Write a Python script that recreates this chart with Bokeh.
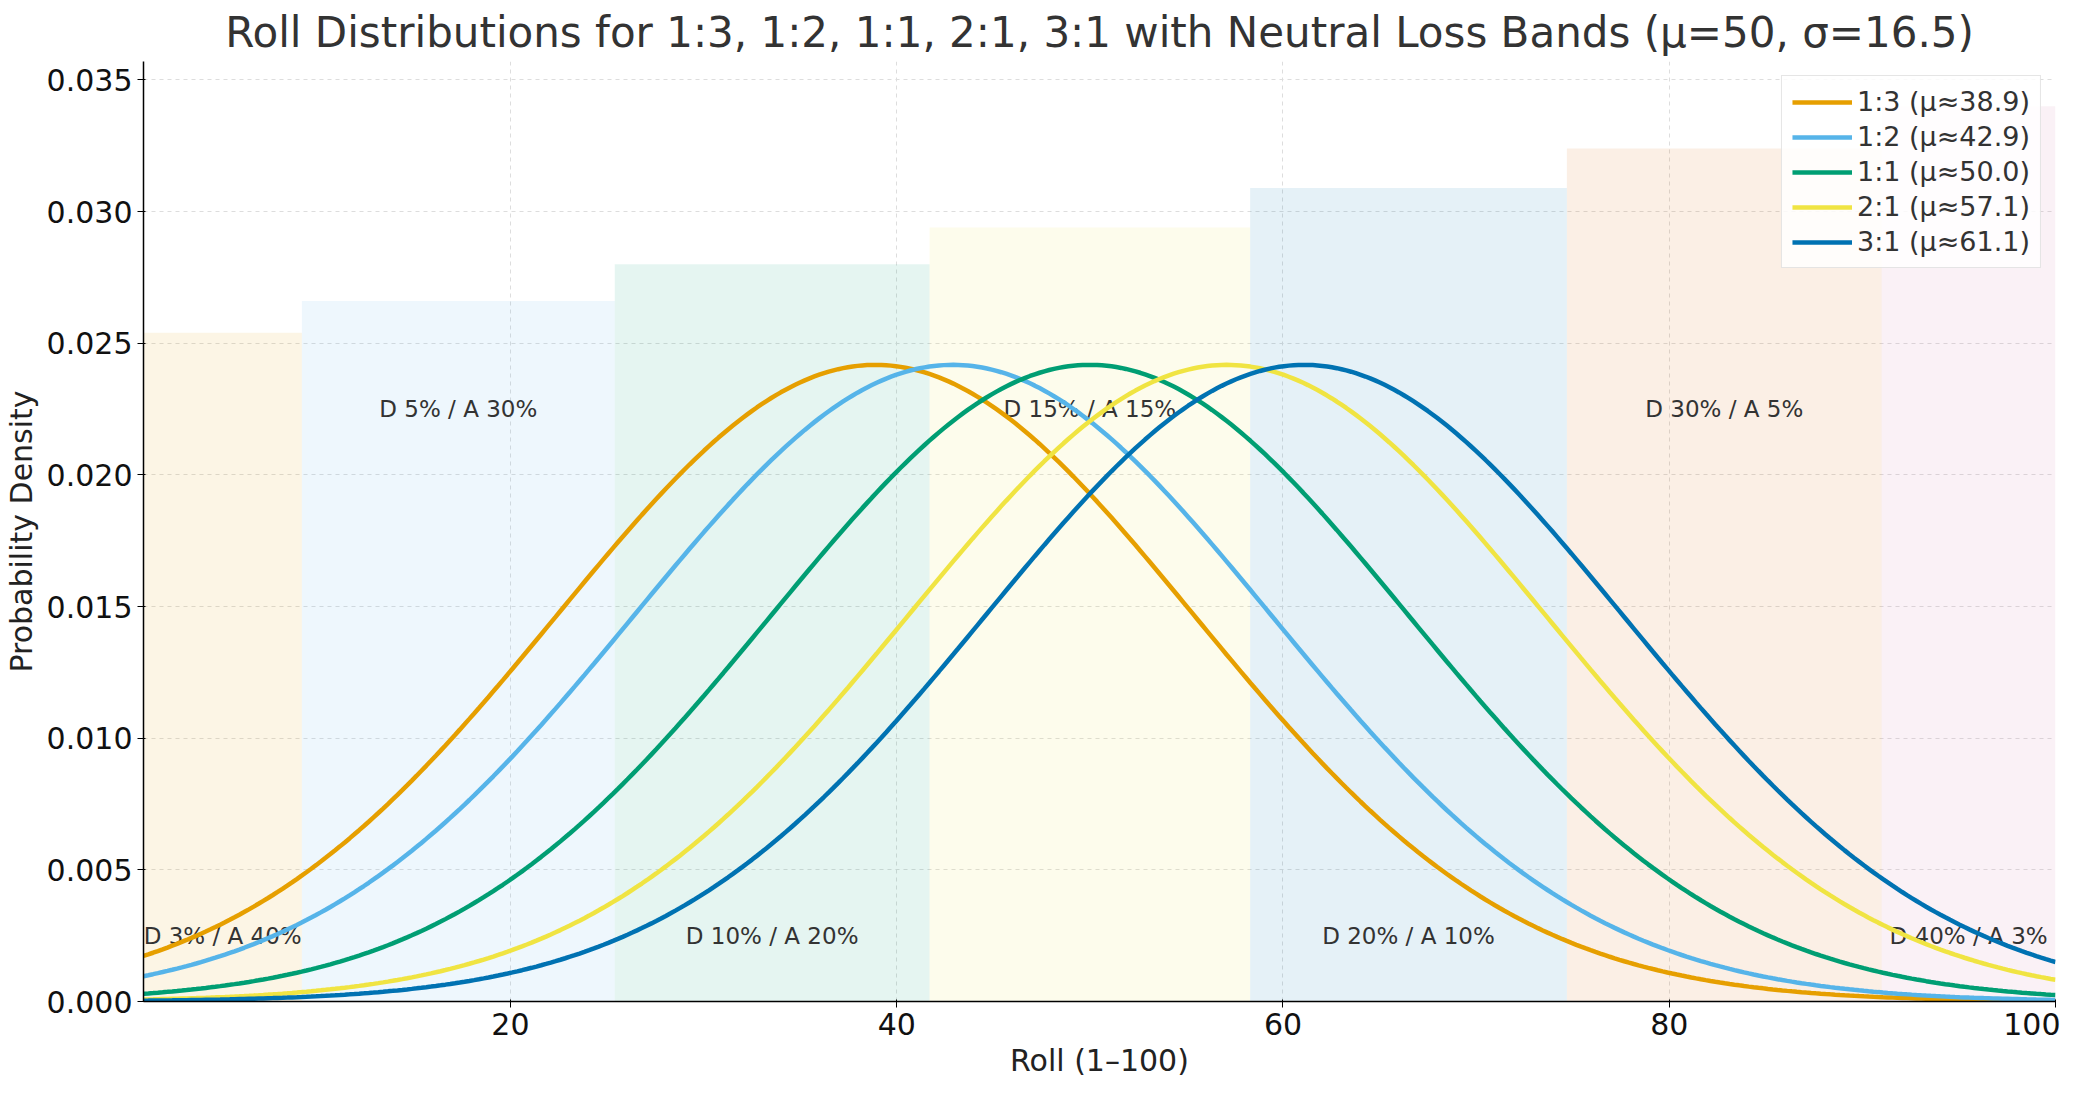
import numpy as np
from bokeh.core.properties import value
from bokeh.models import Legend, LegendItem, Range1d, CustomJSTickFormatter
from bokeh.plotting import figure
from bokeh.embed import file_html
from bokeh.resources import INLINE

# distribution parameters
sigma = 16.5
odds = ["1:3", "1:2", "1:1", "2:1", "3:1"]
means = [38.9, 42.9, 50.0, 57.1, 61.1]
curve_colors = ["#E69F00", "#56B4E9", "#009E73", "#F0E442", "#0072B2"]

# neutral loss bands
band_left = [1, 9.2, 25.4, 41.7, 58.3, 74.7, 91.0]
band_right = [9.2, 25.4, 41.7, 58.3, 74.7, 91.0, 100]
band_top = [0.0254, 0.0266, 0.0280, 0.0294, 0.0309, 0.0324, 0.0340]
band_colors = ["#E69F00", "#56B4E9", "#009E73", "#F0E442", "#0072B2", "#D55E00", "#CC79A7"]
band_labels = ["D 3% / A 40%", "D 5% / A 30%", "D 10% / A 20%", "D 15% / A 15%",
               "D 20% / A 10%", "D 30% / A 5%", "D 40% / A 3%"]
label_y = [0.0025, 0.0225, 0.0025, 0.0225, 0.0025, 0.0225, 0.0025]

x = np.linspace(1, 100, 400)

p = figure(width=2060, height=1080, output_backend="svg", toolbar_location=None,
           title="Roll Distributions for 1:3, 1:2, 1:1, 2:1, 3:1 with Neutral Loss Bands (μ=50, σ=16.5)",
           x_axis_label="Roll (1–100)", y_axis_label="Probability Density")
p.x_range = Range1d(1, 100)
p.y_range = Range1d(0, 0.0357)

p.quad(left=band_left, right=band_right, bottom=0, top=band_top,
       fill_color=band_colors, fill_alpha=0.1, line_color=None)
centers = [(a + b) / 2 for a, b in zip(band_left, band_right)]
p.text(x=centers, y=label_y, text=band_labels, text_align="center", text_baseline="middle",
       text_font=value("DejaVu Sans"), text_font_size="23px", text_color="#333333")

items = []
for name, mu, c in zip(odds, means, curve_colors):
    y = np.exp(-0.5 * ((x - mu) / sigma) ** 2) / (sigma * np.sqrt(2 * np.pi))
    r = p.line(x, y, line_color=c, line_width=4.5)
    items.append(LegendItem(label=f"{name} (μ≈{mu:.1f})", renderers=[r]))

legend = Legend(items=items, location="top_right", label_text_font_size="27px",
                label_text_font="DejaVu Sans", label_text_color="#333333",
                glyph_width=60, spacing=4, padding=10, margin=14,
                border_line_color="#cccccc", background_fill_alpha=0.85)
p.add_layout(legend)

p.title.text_font = "DejaVu Sans"
p.title.text_font_size = "42px"
p.title.text_font_style = "normal"
p.title.text_color = "#333333"
p.title.align = "center"
for ax in (p.xaxis, p.yaxis):
    ax.axis_label_text_font = "DejaVu Sans"
    ax.axis_label_text_font_size = "30px"
    ax.axis_label_text_font_style = "normal"
    ax.axis_label_text_color = "#222222"
    ax.major_label_text_font = "DejaVu Sans"
    ax.major_label_text_font_size = "30px"
    ax.major_label_text_color = "#111111"
    ax.axis_line_color = "black"
    ax.axis_line_width = 1.5
    ax.major_tick_line_color = "black"
    ax.minor_tick_line_color = None
p.xaxis.ticker = [20, 40, 60, 80, 100]
p.yaxis.ticker = [0, 0.005, 0.01, 0.015, 0.02, 0.025, 0.03, 0.035]
p.yaxis.formatter = CustomJSTickFormatter(code="return tick.toFixed(3);")
p.grid.grid_line_dash = "4 4"
p.grid.grid_line_color = "#dddddd"
p.outline_line_color = None

open("out.html", "w").write(file_html(p, INLINE))
